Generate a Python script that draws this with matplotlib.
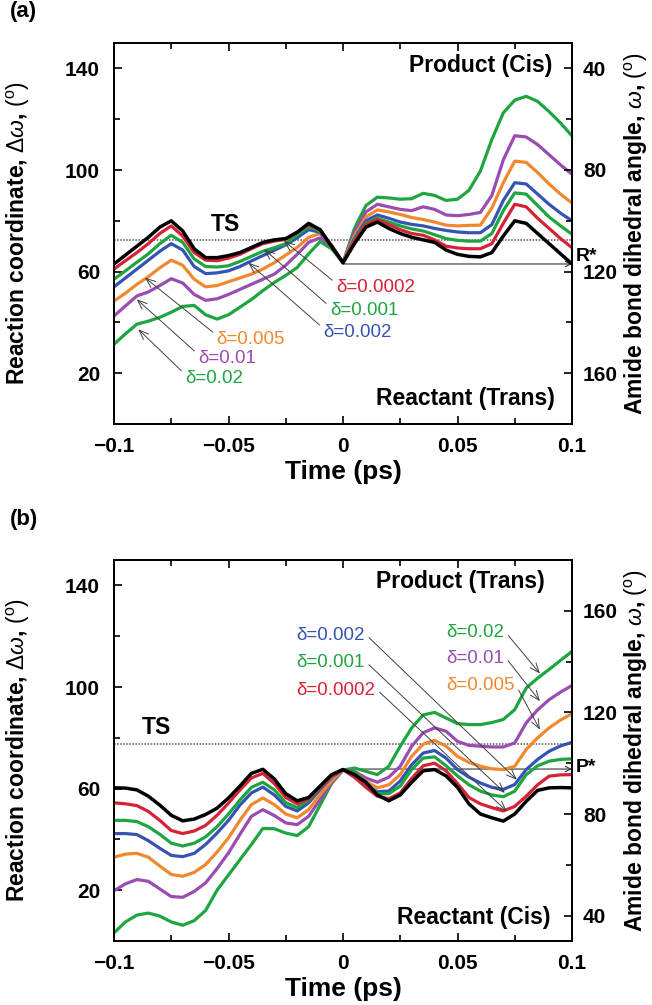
import matplotlib
matplotlib.use("Agg")
import matplotlib.pyplot as plt
from matplotlib import font_manager
from matplotlib.ticker import MultipleLocator, FixedLocator

# time grid (ps), shared by both panels
t = [-0.1, -0.095, -0.09, -0.085, -0.08, -0.075, -0.07, -0.065, -0.06, -0.055,
     -0.05, -0.045, -0.04, -0.035, -0.03, -0.025, -0.02, -0.015, -0.01, -0.005,
     0.0, 0.005, 0.01, 0.015, 0.02, 0.025, 0.03, 0.035, 0.04, 0.045,
     0.05, 0.055, 0.06, 0.065, 0.07, 0.075, 0.08, 0.085, 0.09, 0.095, 0.1]

deltas = ["0.0002", "0.001", "0.002", "0.005", "0.01", "0.02"]
colors = ["#d62236", "#1ea540", "#3553b3", "#f0882e", "#9a4cb3", "#1ea540"]

# panel (a): trans -> cis
a_ref = [63, 66.5, 70, 73.5, 77.5, 80, 76, 69, 65.5, 65.5,
         66.3, 67.5, 69.5, 71.5, 72.5, 73, 75.5, 79, 76.5, 70,
         63.5, 71, 77.5, 79.5, 77, 75, 73.5, 72.5, 71.5, 68.5,
         66.8, 66, 65.8, 67.5, 74, 80, 79, 75, 71, 67, 63]
a_curves = [
    [61, 64.3, 67.5, 71, 75, 78, 74, 67.5, 64.5, 64.3,
     65.3, 66.8, 69, 71, 72, 72.7, 75.5, 78.5, 76.5, 70,
     63.5, 72, 78.5, 80.5, 78.5, 76.5, 75, 74.3, 72.5, 70,
     69.3, 69, 69, 71, 79, 86.5, 85.5, 81, 77, 73, 69.4],
    [57, 60.3, 63.7, 67, 71, 74.3, 71.5, 65, 62, 61.8,
     62.3, 64, 66, 68, 69.4, 71, 74.5, 77.7, 76, 70,
     63.5, 72.5, 79, 81, 79.5, 78, 76.8, 76, 74.5, 73,
     72.3, 72, 72, 75, 84, 91, 90.5, 86, 81.5, 78, 74.7],
    [54, 57.5, 61, 64.5, 68, 71, 68.5, 62, 59.2, 59.5,
     60.3, 62, 64.2, 66.3, 68.4, 70.5, 73.3, 76.5, 75.5, 70,
     63.5, 73, 80, 82.3, 81, 79.5, 78.6, 78, 77, 76.2,
     75.6, 75.3, 75.3, 78.5, 88, 95, 94.5, 90.5, 86.5, 83, 80],
    [48.4, 51.5, 55, 58, 61.5, 64.5, 62.5, 57, 54, 54.5,
     56, 57.5, 59, 61, 63.5, 66.5, 69.5, 73.5, 75, 70.5,
     63.5, 74, 81.5, 84.3, 83.5, 82.5, 81.3, 80.5, 79.5, 78.3,
     78, 78.2, 78.3, 85, 95, 103.5, 103, 99, 94.5, 90.5, 87],
    [42.5, 46.5, 50.4, 52, 54.5, 57.2, 55.5, 51, 48.7, 49.3,
     51, 53, 55, 57, 59, 62.5, 66.8, 71.5, 73.3, 70,
     63.5, 75.5, 83.5, 86.5, 85.5, 84.5, 84, 85.5, 84.5, 82.3,
     82, 82.5, 83.3, 90, 104, 113.5, 113, 110, 106, 102, 98.3],
    [31.4, 35.5, 39.3, 40.5, 42, 44, 46.3, 46.7, 43, 41.3,
     43, 46, 49, 52.5, 55.7, 58.5, 61.6, 67, 71.8, 69,
     63.5, 77, 86, 89.3, 89, 88.5, 88.7, 90.8, 90, 88,
     88.5, 92, 99.6, 112, 122.5, 127.5, 129, 127, 123, 118.5, 113.4],
]

# panel (b): cis -> trans
b_ref = [60.3, 60.2, 59.5, 57, 53.5, 49.5, 47.3, 48, 49.8, 52.3,
         56.3, 61, 66, 67.6, 63.8, 58, 55.2, 56.5, 61, 65.5,
         67.5, 65.5, 62.5, 57.5, 55.2, 57.5, 62.5, 67, 67.5, 65,
         60.5, 54, 50, 48.5, 47.2, 50, 55, 59.3, 60.3, 60.4, 60.3]
b_curves = [
    [54.4, 54, 53.3, 51, 47.5, 43.5, 42.3, 43.3, 45.5, 49.5,
     54.3, 59.5, 64.2, 66, 62, 56.5, 54, 56, 60.5, 65,
     67.5, 64.5, 60.5, 57, 56, 58.3, 64, 69, 70, 67,
     62, 56.5, 54, 52.5, 51.2, 53, 57, 61.5, 64.9, 65.4, 65.5],
    [47.5, 47.5, 47, 45, 42, 38.5, 37.4, 38.5, 41, 45,
     50, 55.5, 60.5, 62.5, 59.5, 54.5, 52.5, 55.5, 60.3, 65,
     67.5, 66.5, 62.5, 58, 58, 61, 67.5, 72, 72.5, 69,
     65, 61.5, 59, 57.5, 56.8, 59, 65.5, 69, 70.8, 71.5, 71.7],
    [42.3, 42.3, 41.9, 39.5, 36.5, 33.7, 33.2, 34.5, 38, 42.5,
     47.5, 53.5, 58.3, 60.6, 57.5, 53, 51.2, 54.4, 59.6, 64.5,
     67.5, 64.5, 61, 58.8, 59, 63, 69.4, 74, 75, 72,
     67.5, 64.5, 62.2, 60.5, 59.7, 61.6, 67.5, 71.5, 74.7, 76.8, 78.2],
    [33, 34.2, 34.5, 33, 29.5, 26.2, 25.5, 27, 30.1, 35,
     40.6, 47.5, 53.7, 56.3, 53.7, 50, 48.5, 51.7, 57.6, 63,
     67.5, 66.2, 62.9, 60.3, 61.5, 65.5, 72.7, 77.5, 79, 76.7,
     72.7, 70.3, 68.8, 67.8, 67.5, 68.8, 75.4, 80, 83.9, 87, 89.5],
    [19.8, 22.5, 24.2, 23.5, 20.5, 17.5, 17.2, 19.5, 22.9, 28.5,
     34.7, 42, 49.1, 51.7, 49.4, 46.5, 45.8, 49.1, 55.7, 62.2,
     67.5, 66.8, 64.2, 62.5, 64.5, 68.8, 76.7, 82, 83.9, 82.6,
     78.6, 77, 76.7, 76.4, 76.4, 78, 85.9, 91, 95, 98, 100.6],
    [3.2, 7.5, 10.2, 11, 9.8, 7.5, 6.2, 8, 12, 20,
     26, 32, 38, 44.3, 44.2, 42.5, 41.5, 45, 53.5, 62,
     67.3, 68.1, 66.8, 65.5, 68.8, 76.7, 83.9, 89, 90, 87.8,
     85.6, 85.2, 85.2, 86, 87.2, 91.1, 99.6, 103.5, 106.9, 110.5, 114],
]

xtick_vals = [-0.1, -0.05, 0, 0.05, 0.1]
xtick_text = ["\u22120.1", "\u22120.05", "0", "0.05", "0.1"]
ytick_vals = [20, 60, 100, 140]

ts_a, ts_b = 72.3, 77.7        # transition-state levels
rstar, pstar = 63.0, 67.7       # R*, P* levels

# annotation (text position, arrow tip) for each delta, in data units
a_text = [(-0.003, 53.7), (-0.0057, 44.5), (-0.0086, 36.0),
          (-0.0552, 33.3), (-0.0632, 25.7), (-0.069, 17.9)]
a_tip = [(-0.0258, 72.1), (-0.0345, 68.8), (-0.0413, 63.5),
         (-0.0865, 57.6), (-0.0901, 49.1), (-0.0894, 37.3)]
b_text = [(-0.0202, 98.7), (-0.0202, 109.5), (-0.0202, 120.2),
          (0.0453, 100.6), (0.0453, 111.4), (0.0453, 121.3)]
b_tip = [(0.0715, 51.1), (0.0707, 58.3), (0.0759, 63.5),
         (0.086, 83.2), (0.086, 94.4), (0.086, 105.3)]

names = {f.name for f in font_manager.fontManager.ttflist}
FONT = "Liberation Sans" if "Liberation Sans" in names else "DejaVu Sans"
plt.rcParams["font.family"] = [FONT, "DejaVu Sans"]
plt.rcParams["mathtext.fontset"] = "custom"
plt.rcParams["mathtext.rm"] = FONT
plt.rcParams["mathtext.it"] = FONT + ":italic"
plt.rcParams["mathtext.bf"] = FONT + ":bold"
plt.rcParams["axes.linewidth"] = 1.3

W, H = 652, 1005
fig = plt.figure(figsize=(W / 100, H / 100), dpi=100)
axa = fig.add_axes([114 / W, 1 - 424 / H, 458 / W, 381 / H])
axb = fig.add_axes([114 / W, 1 - 941 / H, 458 / W, 381 / H])


def setup(ax, right_lim, right_ticks):
    ax.set_xlim(-0.1, 0.1)
    ax.set_ylim(0, 150)
    ax.xaxis.set_major_locator(FixedLocator(xtick_vals))
    ax.set_xticklabels(xtick_text)
    ax.xaxis.set_minor_locator(MultipleLocator(0.025))
    ax.yaxis.set_major_locator(FixedLocator(ytick_vals))
    ax.yaxis.set_minor_locator(FixedLocator([40, 80, 120]))
    ax.tick_params(which="both", direction="in", top=True, right=False, width=1.2)
    ax.tick_params(which="major", length=6, labelsize=15)
    ax.tick_params(axis="x", which="major", pad=9)
    ax.tick_params(axis="y", which="major", pad=10)
    ax.tick_params(which="minor", length=4)
    for lab in ax.get_xticklabels() + ax.get_yticklabels():
        lab.set_fontweight("bold")
    ax.set_xlabel("Time (ps)", fontsize=19, fontweight="bold", labelpad=3)
    tw = ax.twinx()
    tw.set_ylim(*right_lim)
    tw.yaxis.set_major_locator(FixedLocator(right_ticks))
    tw.yaxis.set_minor_locator(FixedLocator([60, 100, 140]))
    tw.tick_params(which="both", direction="in", width=1.2)
    tw.tick_params(which="major", length=6, labelsize=15, pad=8)
    tw.tick_params(which="minor", length=4)
    for lab in tw.get_yticklabels():
        lab.set_fontweight("bold")
    return tw


setup(axa, (180, 30), [40, 80, 120, 160])
setup(axb, (30, 180), [40, 80, 120, 160])

for ax, ref, curves, ts, star, sname, soff in [
        (axa, a_ref, a_curves, ts_a, rstar, "R*", 2.8),
        (axb, b_ref, b_curves, ts_b, pstar, "P*", 0.5)]:
    ax.axhline(ts, color="0.35", lw=1.1, ls=(0, (1, 1)), zorder=1)
    ax.annotate("", xy=(0.1, star), xytext=(0, star),
                arrowprops=dict(arrowstyle="->", color="0.2", lw=0.8,
                                shrinkA=0, shrinkB=0), zorder=1)
    ax.text(1.008, (star + soff) / 150, sname, transform=ax.transAxes,
            fontsize=14, fontweight="bold", ha="left", va="center")
    for c, y in zip(colors[::-1], curves[::-1]):
        ax.plot(t, y, color=c, lw=2.3, solid_joinstyle="round", zorder=3)
    ax.plot(t, ref, color="black", lw=2.5, solid_joinstyle="round", zorder=4)

arrow_kw = dict(arrowstyle="->,head_length=0.5,head_width=0.2", color="0.25",
                lw=0.7, shrinkA=1, shrinkB=0)
for d, c, xt, xy in zip(deltas, colors, a_text, a_tip):
    axa.annotate("\u03b4=" + d, xy=xy, xytext=xt, color=c, fontsize=13.5,
                 ha="left", va="center", zorder=5,
                 arrowprops=dict(relpos=(0, 0.75), **arrow_kw))
for d, c, xt, xy in zip(deltas, colors, b_text, b_tip):
    axb.annotate("\u03b4=" + d, xy=xy, xytext=xt, color=c, fontsize=13.5,
                 ha="left", va="center", zorder=5,
                 arrowprops=dict(relpos=(1, 0.6), **arrow_kw))

axa.text(-0.0515, 78.5, "TS", fontsize=16.5, fontweight="bold", ha="center", va="center")
axa.text(0.0913, 141, "Product (Cis)", fontsize=16.5, fontweight="bold", ha="right", va="center")
axa.text(0.0926, 10, "Reactant (Trans)", fontsize=16.5, fontweight="bold", ha="right", va="center")
axb.text(-0.0817, 84, "TS", fontsize=16.5, fontweight="bold", ha="center", va="center")
axb.text(0.0882, 141.7, "Product (Trans)", fontsize=16.5, fontweight="bold", ha="right", va="center")
axb.text(0.0904, 9.2, "Reactant (Cis)", fontsize=16.5, fontweight="bold", ha="right", va="center")

left_lab = r"Reaction coordinate, $\Delta\omega$, $(^{\rm o})$"
right_lab = r"Amide bond dihedral angle, $\omega$, $(^{\rm o})$"
for ax, tag, ytag in [(axa, "(a)", 12), (axb, "(b)", 519)]:
    pos = ax.get_position()
    yc = (pos.y0 + pos.y1) / 2
    fig.text(18 / W, yc, left_lab, rotation=90, ha="center", va="center",
             fontsize=16.5, fontweight="bold")
    fig.text(636 / W, yc, right_lab, rotation=90, ha="center", va="center",
             fontsize=16.5, fontweight="bold")
    fig.text(10 / W, 1 - ytag / H, tag, fontsize=16, fontweight="bold",
             ha="left", va="center")

fig.savefig("out.png", dpi=100)
